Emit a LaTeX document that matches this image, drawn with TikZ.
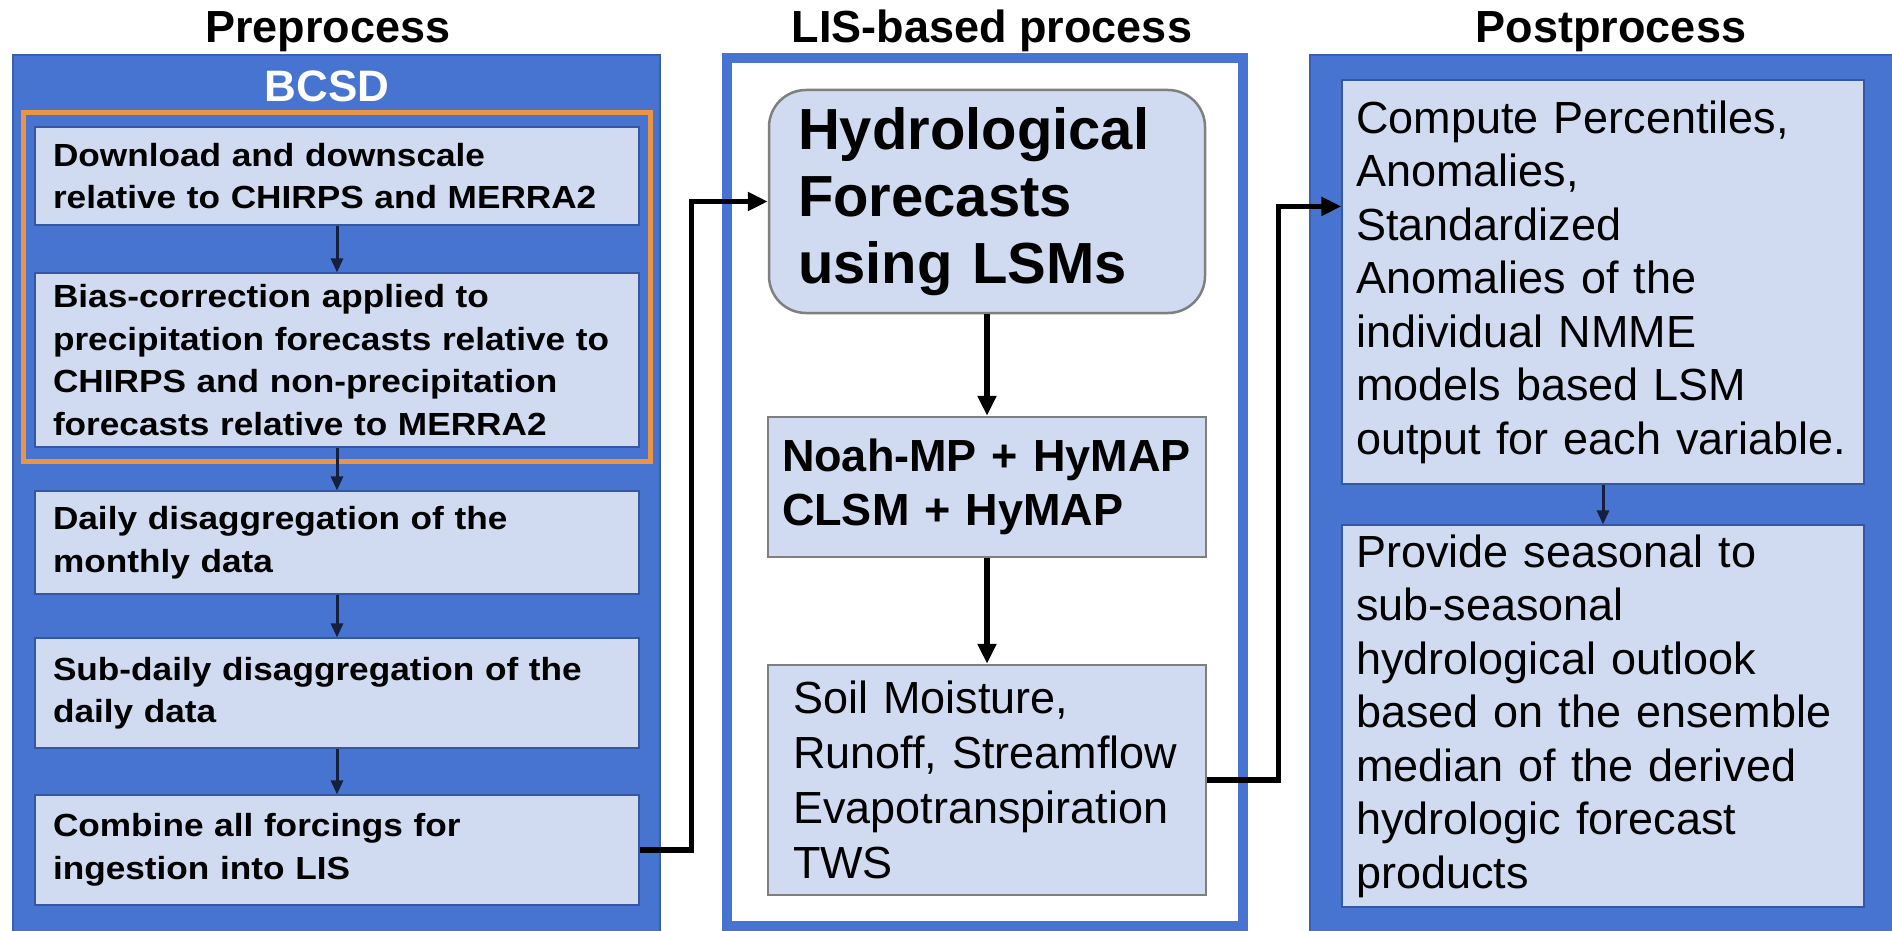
\documentclass[tikz,border=0pt]{standalone}
\usepackage{fontspec}
\setmainfont{Liberation Sans}
\newfontfamily\leftfont{Liberation Sans}[FakeStretch=1.1]
\usetikzlibrary{arrows.meta}
\definecolor{panelblue}{HTML}{4674D0}
\definecolor{paneledge}{HTML}{3A5FB0}
\definecolor{boxfill}{HTML}{D0DAF0}
\definecolor{boxedge}{HTML}{3556A0}
\definecolor{grayedge}{HTML}{7F7F7F}
\definecolor{bcsdorange}{HTML}{EA9445}
\definecolor{navy}{HTML}{15203C}
\tikzset{
  panel/.style={fill=panelblue, draw=paneledge, line width=1.5},
  title/.style={anchor=base, font=\bfseries\fontsize{45}{54}\selectfont},
  lbox/.style={fill=boxfill, draw=boxedge, line width=1.2, minimum width=604, text width=568,
    inner xsep=18, inner ysep=0, align=left, font=\leftfont\bfseries\fontsize{32}{42.5}\selectfont},
  mbox/.style={fill=boxfill, draw=grayedge, line width=2.5, inner ysep=0, align=left},
  rbox/.style={fill=boxfill, draw=boxedge, line width=1.2, minimum width=522, text width=494,
    inner xsep=14, inner ysep=0, align=left, font=\fontsize{45}{53.5}\selectfont},
  smallarrow/.style={draw=navy, line width=3, -{Triangle[length=14,width=12]}},
  conn/.style={draw=black, line width=5.5, -{Triangle[length=20,width=18]}},
}
\begin{document}
\begin{tikzpicture}[x=1pt,y=-1pt]
\useasboundingbox (0,0) rectangle (1892,931);
\fill[white] (0,0) rectangle (1892,931);

% titles
\node[title] (t1) at (328,43) {Preprocess};
\node[title] (t2) at (992,43) {LIS-based process};
\node[title] (t3) at (1611,43) {Postprocess};

% left panel
\draw[panel] (13,55) rectangle (660,933);
\node[anchor=base, text=white, font=\bfseries\fontsize{44}{50}\selectfont] (bcsd) at (327,102) {BCSD};
\draw[bcsdorange, line width=5] (23.5,112.5) rectangle (650,461);

\node[lbox, minimum height=98] (b1) at (337,176) {Download and downscale\\relative to CHIRPS and MERRA2};
\node[lbox, minimum height=174] (b2) at (337,360) {Bias-correction applied to\\precipitation forecasts relative to\\CHIRPS and non-precipitation\\forecasts relative to MERRA2};
\node[lbox, minimum height=103] (b3) at (337,542.5) {Daily disaggregation of the\\monthly data};
\node[lbox, minimum height=110] (b4) at (337,693) {Sub-daily disaggregation of the\\daily data};
\node[lbox, minimum height=110] (b5) at (337,850) {Combine all forcings for\\ingestion into LIS};

\draw[smallarrow] (b1.south) -- (b2.north);
\draw[smallarrow] (b2.south) -- (b3.north);
\draw[smallarrow] (b3.south) -- (b4.north);
\draw[smallarrow] (b4.south) -- (b5.north);

% middle panel
\draw[fill=white, draw=panelblue, line width=10] (727,58) rectangle (1243,926);

\node[mbox, rounded corners=37, minimum width=436, text width=378, inner xsep=29, minimum height=223,
  font=\bfseries\fontsize{58}{67}\selectfont] (hydro) at (987,201.5) {Hydrological\\Forecasts\\using LSMs};
\node[mbox, minimum width=438, text width=410, inner xsep=14, minimum height=140,
  font=\bfseries\fontsize{45}{54}\selectfont] (noah) at (987,487) {Noah-MP + HyMAP\\CLSM + HyMAP};
\node[mbox, minimum width=438, text width=388, inner xsep=25, minimum height=230,
  font=\fontsize{45}{55}\selectfont] (soil) at (987,780) {Soil Moisture,\\Runoff, Streamflow\\Evapotranspiration\\TWS};

\draw[conn] (hydro.south) -- (noah.north);
\draw[conn] (noah.south) -- (soil.north);

% right panel
\draw[panel] (1310,55) rectangle (1894,933);
\node[rbox, minimum height=404] (comp) at (1603,282) {Compute Percentiles,\\Anomalies,\\Standardized\\Anomalies of the\\individual NMME\\models based LSM\\\mbox{output for each variable.}};
\node[rbox, minimum height=382] (prov) at (1603,716) {Provide seasonal to\\sub-seasonal\\hydrological outlook\\based on the ensemble\\median of the derived\\hydrologic forecast\\products};
\draw[smallarrow] (comp.south) -- (prov.north);

% connectors between panels
\draw[conn] (b5.east) -- ++(52,0) |- (hydro.west);
\draw[conn] (soil.east) -- ++(71,0) |- ([yshift=-127pt]comp.north west);
\end{tikzpicture}
\end{document}
